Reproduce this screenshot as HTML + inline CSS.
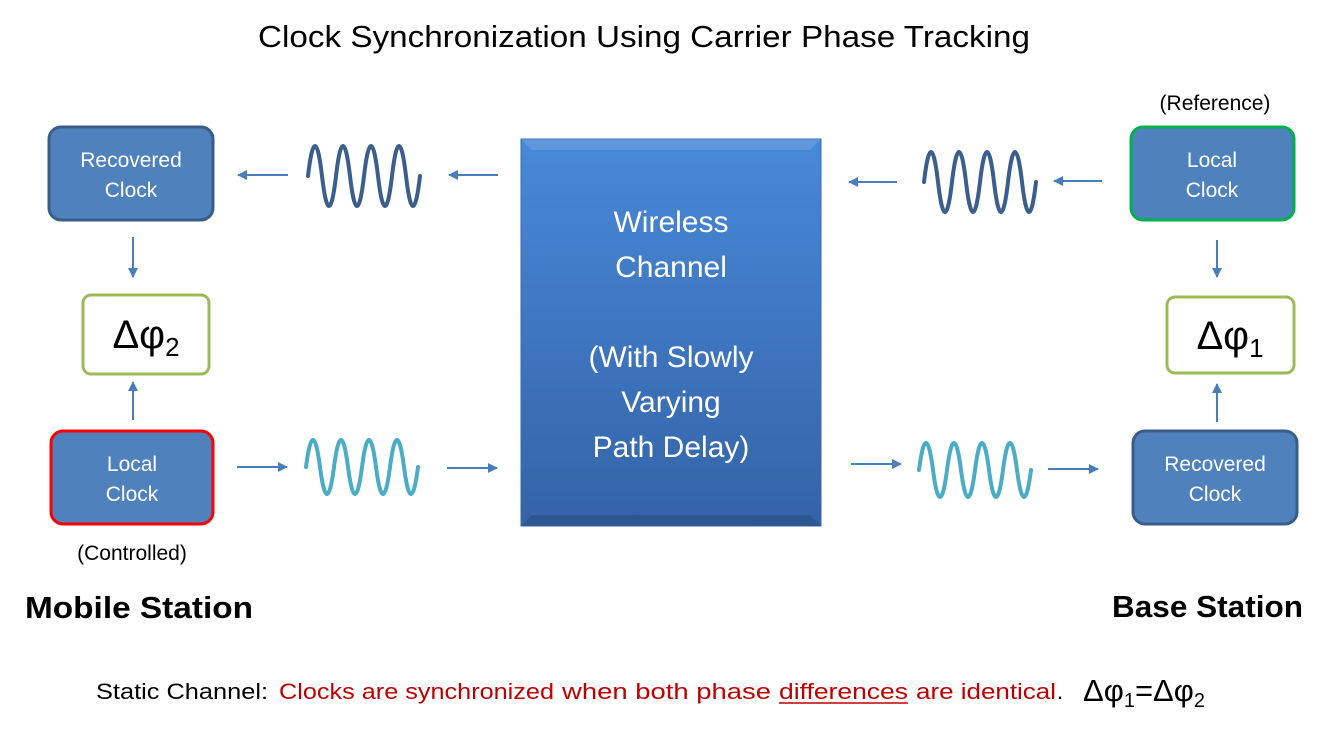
<!DOCTYPE html>
<html><head><meta charset="utf-8"><style>
body{margin:0;background:#fff}
svg{display:block;font-family:"Liberation Sans","DejaVu Sans",sans-serif}
</style></head><body>
<svg width="1328" height="734" viewBox="0 0 1328 734" xmlns="http://www.w3.org/2000/svg">
<defs>
<linearGradient id="g" x1="0" y1="0" x2="0" y2="1">
<stop offset="0" stop-color="#4889d9"/><stop offset="1" stop-color="#3463a6"/></linearGradient>
<marker id="ah" markerWidth="10" markerHeight="10" refX="9" refY="5" orient="auto" markerUnits="userSpaceOnUse" viewBox="0 0 10 10">
<path d="M0,0 L10,5 L0,10 z" fill="#4a7ebb"/></marker>
</defs>
<text x="258" y="47" font-size="31" textLength="772" lengthAdjust="spacingAndGlyphs" fill="#000">Clock Synchronization Using Carrier Phase Tracking</text>

<rect x="49" y="127" width="164" height="93" rx="12" fill="#4f81bd" stroke="#385d8a" stroke-width="3"/>
<text x="131" y="167" font-size="21" fill="#fff" text-anchor="middle">Recovered</text>
<text x="131" y="197" font-size="21" fill="#fff" text-anchor="middle">Clock</text>

<rect x="51" y="431" width="162" height="93" rx="12" fill="#4f81bd" stroke="#ff0000" stroke-width="3"/>
<text x="132" y="471" font-size="21" fill="#fff" text-anchor="middle">Local</text>
<text x="132" y="501" font-size="21" fill="#fff" text-anchor="middle">Clock</text>

<rect x="1131" y="127" width="163" height="93" rx="12" fill="#4f81bd" stroke="#00b050" stroke-width="3"/>
<text x="1212" y="167" font-size="21" fill="#fff" text-anchor="middle">Local</text>
<text x="1212" y="197" font-size="21" fill="#fff" text-anchor="middle">Clock</text>

<rect x="1133" y="431" width="164" height="93" rx="12" fill="#4f81bd" stroke="#385d8a" stroke-width="3"/>
<text x="1215" y="471" font-size="21" fill="#fff" text-anchor="middle">Recovered</text>
<text x="1215" y="501" font-size="21" fill="#fff" text-anchor="middle">Clock</text>

<rect x="83" y="295" width="126" height="79" rx="8" fill="#fff" stroke="#9bbb59" stroke-width="3"/>
<text x="146" y="348" font-size="40" text-anchor="middle">Δφ<tspan font-size="26" dy="8">2</tspan></text>
<rect x="1167" y="297" width="127" height="76" rx="8" fill="#fff" stroke="#9bbb59" stroke-width="3"/>
<text x="1230" y="349" font-size="40" text-anchor="middle">Δφ<tspan font-size="26" dy="8">1</tspan></text>

<text x="1215" y="110" font-size="21" text-anchor="middle">(Reference)</text>
<text x="132" y="560" font-size="21" text-anchor="middle">(Controlled)</text>
<text x="25" y="618" font-size="31" font-weight="bold" textLength="228" lengthAdjust="spacingAndGlyphs">Mobile Station</text>
<text x="1112" y="617" font-size="31" font-weight="bold" textLength="191" lengthAdjust="spacingAndGlyphs">Base Station</text>

<rect x="521" y="139" width="300" height="387" fill="url(#g)" stroke="#3a6aa8" stroke-width="1"/>
<path d="M521 139 L532 150 L810 150 L821 139 Z" fill="#ffffff" opacity="0.12"/>
<path d="M521 526 L532 515 L810 515 L821 526 Z" fill="#000" opacity="0.12"/>
<g fill="#fff" font-size="30" text-anchor="middle">
<text x="671" y="232">Wireless</text>
<text x="671" y="277">Channel</text>
<text x="671" y="367">(With Slowly</text>
<text x="671" y="412">Varying</text>
<text x="671" y="457">Path Delay)</text>
</g>

<g fill="none" stroke-width="4" stroke-linecap="round">
<path stroke="#3b5e8c" d="M308 176 q7 -60 14 0 t14 0 t14 0 t14 0 t14 0 t14 0 t14 0 t14 0"/>
<path stroke="#3b5e8c" d="M924 182 q7 -60 14 0 t14 0 t14 0 t14 0 t14 0 t14 0 t14 0 t14 0"/>
<path stroke="#4bacc6" d="M306 467 q7 -54 14 0 t14 0 t14 0 t14 0 t14 0 t14 0 t14 0 t14 0"/>
<path stroke="#4bacc6" d="M919 470 q7 -54 14 0 t14 0 t14 0 t14 0 t14 0 t14 0 t14 0 t14 0"/>
</g>

<g stroke="#4a7ebb" stroke-width="2" marker-end="url(#ah)">
<line x1="288" y1="175" x2="238" y2="175"/>
<line x1="498" y1="175" x2="449" y2="175"/>
<line x1="897" y1="182" x2="849" y2="182"/>
<line x1="1102" y1="181" x2="1054" y2="181"/>
<line x1="237" y1="467" x2="287" y2="467"/>
<line x1="447" y1="468" x2="497" y2="468"/>
<line x1="851" y1="464" x2="901" y2="464"/>
<line x1="1048" y1="469" x2="1098" y2="469"/>
<line x1="133" y1="237" x2="133" y2="277"/>
<line x1="133" y1="420" x2="133" y2="382"/>
<line x1="1217" y1="240" x2="1217" y2="277"/>
<line x1="1217" y1="422" x2="1217" y2="384"/>
</g>

<g font-size="22">
<text x="96" y="699" textLength="172" lengthAdjust="spacingAndGlyphs">Static Channel:</text>
<text x="279" y="699" fill="#c00000" textLength="275" lengthAdjust="spacingAndGlyphs">Clocks are synchronized</text>
<text x="562" y="699" fill="#c00000" textLength="209" lengthAdjust="spacingAndGlyphs">when both phase</text>
<text x="779" y="699" fill="#c00000" textLength="129" lengthAdjust="spacingAndGlyphs">differences</text>
<text x="916" y="699" fill="#c00000" textLength="140" lengthAdjust="spacingAndGlyphs">are identical</text>
<text x="1057" y="699">.</text>
</g>
<line x1="779" y1="703" x2="908" y2="703" stroke="#c00000" stroke-width="1.5"/>
<text x="1083" y="701" font-size="31">Δφ<tspan font-size="20" dy="6">1</tspan><tspan dy="-6">=Δφ</tspan><tspan font-size="20" dy="6">2</tspan></text>
</svg>
</body></html>
